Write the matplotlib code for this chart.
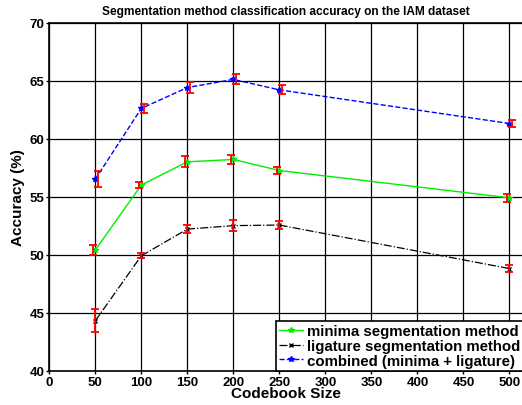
import matplotlib
matplotlib.use("Agg")
import matplotlib.pyplot as plt
import numpy as np

plt.rcParams['font.family'] = ['Liberation Sans', 'DejaVu Sans']
plt.rcParams['font.weight'] = 'bold'

codebook = [50, 100, 150, 200, 250, 500]

minima = [50.4, 56.0, 58.0, 58.2, 57.25, 54.9]
minima_err = [0.42, 0.3, 0.46, 0.38, 0.32, 0.33]

ligature = [44.3, 49.9, 52.2, 52.5, 52.55, 48.8]
ligature_err = [1.0, 0.2, 0.32, 0.49, 0.36, 0.27]

combined = [56.5, 62.6, 64.4, 65.1, 64.2, 61.3]
combined_err = [0.7, 0.42, 0.45, 0.43, 0.4, 0.33]

labels = ["minima segmentation method",
          "ligature segmentation method",
          "combined (minima + ligature)"]

fig = plt.figure(figsize=(5.22, 4.06), dpi=100)
ax = fig.add_axes([0.0944, 0.0845, 0.908, 0.8575])

x = np.array(codebook)

# lines
ax.plot(x, minima, '-', color='#00ee00', lw=1.0, marker='*', ms=4,
        label=labels[0], zorder=3)
ax.plot(x, ligature, '-.', color='black', lw=0.9, marker='x', ms=3,
        label=labels[1], zorder=3)
ax.plot(x, combined, '--', color='blue', lw=1.0, marker='*', ms=4,
        label=labels[2], zorder=3)

# error bars (slightly shifted so they do not overlap)
ebar = dict(fmt='none', ecolor='red', elinewidth=1.3, capsize=3,
            capthick=1.3, zorder=4)
ax.errorbar(x - 3, minima, yerr=minima_err, **ebar)
ax.errorbar(x, ligature, yerr=ligature_err, **ebar)
ax.errorbar(x + 3, combined, yerr=combined_err, **ebar)

ax.set_xlim(0, 515)
ax.set_ylim(40, 70)
ax.set_xticks(np.arange(0, 501, 50))
ax.set_yticks(np.arange(40, 71, 5))
ax.grid(True, color='black', lw=0.9, ls='-')
ax.set_axisbelow(True)
ax.tick_params(direction='out', length=2.5, width=1, labelsize=9.5, pad=1)
for lab in ax.get_xticklabels() + ax.get_yticklabels():
    lab.set_fontweight('bold')
for s in ax.spines.values():
    s.set_linewidth(1.2)

ax.set_xlabel("Codebook Size", fontsize=11, fontweight='bold', labelpad=-1)
ax.set_ylabel("Accuracy (%)", fontsize=11, fontweight='bold', labelpad=3)
ax.set_title("Segmentation method classification accuracy on the IAM dataset",
             fontsize=8.6, fontweight='bold', pad=6)

leg = ax.legend(loc='lower right', bbox_to_anchor=(1.0, 0.0), borderaxespad=0,
                fancybox=False, edgecolor='black', framealpha=1,
                prop={'weight': 'bold', 'size': 10.8}, handlelength=1.6,
                handletextpad=0.3, labelspacing=0.05, borderpad=0.2)
leg.get_frame().set_linewidth(1.2)

fig.savefig("out.png", dpi=100)
